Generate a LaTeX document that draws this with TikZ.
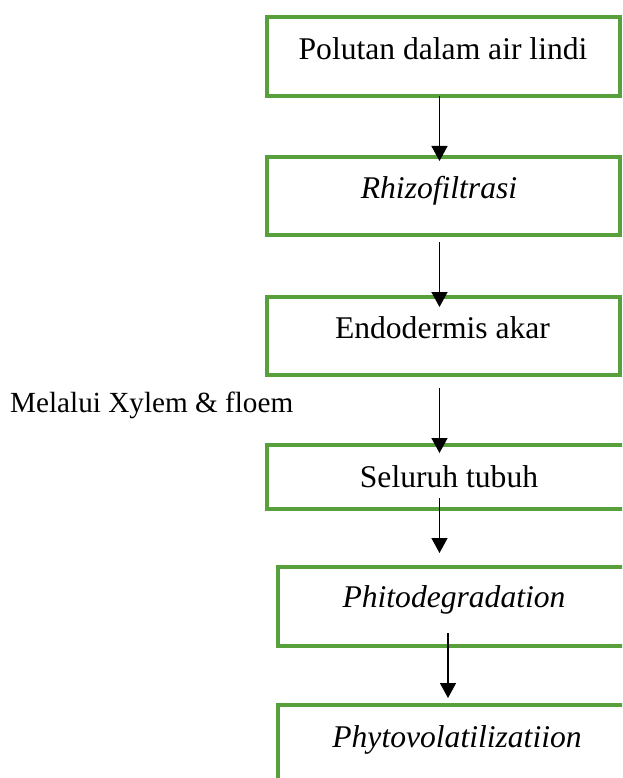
\documentclass[tikz,border=0pt]{standalone}
\usepackage{fontspec}
\setmainfont{Liberation Serif}
\usetikzlibrary{arrows.meta}
\definecolor{boxgreen}{RGB}{88,160,60}
\tikzset{
  flowbox/.style={draw=boxgreen, line width=3.2pt, rectangle, inner sep=0pt, outer sep=0pt, anchor=north west},
  boxtext/.style={anchor=base, inner sep=0pt, font=\fontsize{31.6}{38}\selectfont},
  arr/.style={line width=1.5pt, -{Triangle[length=15pt,width=16pt]}}
}
\begin{document}
\begin{tikzpicture}[x=1pt,y=-1pt]
\useasboundingbox (0,0) rectangle (622,778);
\clip (0,0) rectangle (622,778);
% boxes
\node[flowbox, minimum width=353pt, minimum height=79pt] (b1) at (267,17) {};
\node[flowbox, minimum width=353pt, minimum height=78pt] (b2) at (267,157) {};
\node[flowbox, minimum width=353pt, minimum height=78pt] (b3) at (267,297) {};
\node[flowbox, minimum width=360pt, minimum height=64pt] (b4) at (267,445) {};
\node[flowbox, minimum width=360pt, minimum height=79pt] (b5) at (278,567) {};
\node[flowbox, minimum width=360pt, minimum height=100pt] (b6) at (278,705) {};
% texts
\node[boxtext] (t1) at (443,60) {Polutan dalam air lindi};
\node[boxtext] (t2) at (439,198) {\textit{Rhizofiltrasi}};
\node[boxtext] (t3) at (442.5,338) {Endodermis akar};
\node[boxtext] (t4) at (449,487) {Seluruh tubuh};
\node[boxtext] (t5) at (454,607) {\textit{Phitodegradation}};
\node[boxtext] (t6) at (457,747) {\textit{Phytovolatilizatiion}};
\node[boxtext, anchor=base west, font=\fontsize{29.2}{35}\selectfont] (lab) at (10,412) {Melalui Xylem \& floem};
% connectors
\coordinate (xa) at (439.5,0);
\coordinate (xb) at (448,0);
\draw[arr] (b1.south -| xa) -- ([yshift=-4pt]b2.north -| xa);
\draw[arr] ([yshift=-7pt]b2.south -| xa) -- ([yshift=-10pt]b3.north -| xa);
\draw[arr] ([yshift=-13pt]b3.south -| xa) -- ([yshift=-8pt]b4.north -| xa);
\draw[arr] ([yshift=11pt]b4.south -| xa) -- ([yshift=14pt]b5.north -| xa);
\draw[arr] ([yshift=13pt]b5.south -| xb) -- ([yshift=7pt]b6.north -| xb);
\end{tikzpicture}
\end{document}
